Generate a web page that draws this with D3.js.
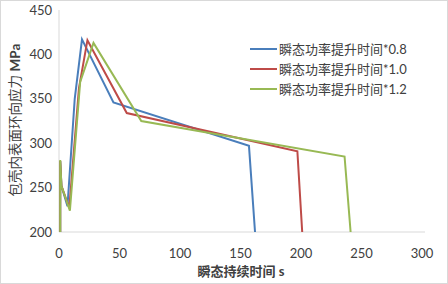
<!DOCTYPE html>
<html>
<head>
<meta charset="utf-8">
<script src="https://cdn.jsdelivr.net/npm/d3@7"></script>
<style>
  body { margin: 0; background: #fff; }
  text { font-family: Lato, "Noto Sans CJK SC", sans-serif; fill: #404040; }
</style>
</head>
<body>
<svg id="chart" width="448" height="284"></svg>
<script>
// data
const seriesNames = ["瞬态功率提升时间*0.8", "瞬态功率提升时间*1.0", "瞬态功率提升时间*1.2"];
const colors = ["#4a7ebb", "#be4b48", "#98b954"];

const blueX = [1, 1, 2, 7, 13, 19, 45, 157, 162];
const blueY = [200, 280, 252, 229, 350, 417, 346, 297, 200];
const redX = [1, 1, 2, 8.5, 16.5, 23.5, 56, 197, 201];
const redY = [200, 280, 252, 227, 362, 416, 334, 291, 200];
const greenX = [1, 1, 2, 9, 17.5, 28.5, 68, 236, 241];
const greenY = [200, 281, 252, 224, 369, 413, 325, 285, 200];

const xTicks = [0, 50, 100, 150, 200, 250, 300];
const yTicks = [200, 250, 300, 350, 400, 450];
const xTitle = "瞬态持续时间 s";
const yTitleCn = "包壳内表面环向应力 ";
const yTitleUnit = "MPa";

const svg = d3.select("#chart");
const width = 448, height = 284;

// outer border
svg.append("rect")
    .attr("x", 0.5).attr("y", 0.5)
    .attr("width", width - 1).attr("height", height - 1)
    .attr("fill", "#fff")
    .attr("stroke", "#d9d9d9");

let x = d3.scaleLinear().domain([0, 300]).range([59, 422]);
let y = d3.scaleLinear().domain([200, 450]).range([232, 10]);

// axes lines
svg.append("line")
    .attr("x1", x(0)).attr("x2", 425)
    .attr("y1", y(200)).attr("y2", y(200))
    .style("stroke", "#d9d9d9").style("stroke-width", 1);
svg.append("line")
    .attr("x1", x(0)).attr("x2", x(0))
    .attr("y1", y(200)).attr("y2", y(450))
    .style("stroke", "#d9d9d9").style("stroke-width", 1);

// tick labels
svg.selectAll(".xtick")
    .data(xTicks)
    .join("text")
    .classed("xtick", true)
    .attr("x", d => x(d))
    .attr("y", 258)
    .attr("text-anchor", "middle")
    .style("font-size", "13px")
    .text(d => d);

svg.selectAll(".ytick")
    .data(yTicks)
    .join("text")
    .classed("ytick", true)
    .attr("x", 52)
    .attr("y", d => y(d) + 4.5)
    .attr("text-anchor", "end")
    .style("font-size", "13px")
    .text(d => d);

// axis titles
svg.append("text")
    .attr("x", 241).attr("y", 276)
    .attr("text-anchor", "middle")
    .style("font-size", "13px")
    .style("font-weight", "bold")
    .text(xTitle);

let yt = svg.append("text")
    .attr("transform", `translate(20, ${y(326)}) rotate(-90)`)
    .attr("text-anchor", "middle")
    .style("font-size", "13.5px");
yt.append("tspan").text(yTitleCn);
yt.append("tspan").style("font-weight", "bold").text(yTitleUnit);

// series
let series = [
    { name: seriesNames[0], xs: blueX, ys: blueY, color: colors[0] },
    { name: seriesNames[1], xs: redX, ys: redY, color: colors[1] },
    { name: seriesNames[2], xs: greenX, ys: greenY, color: colors[2] }
];

let line = d3.line()
    .x(d => x(d[0]))
    .y(d => y(d[1]));

svg.selectAll(".series")
    .data(series)
    .join("path")
    .classed("series", true)
    .attr("d", s => line(s.xs.map((v, i) => [v, s.ys[i]])))
    .style("fill", "none")
    .style("stroke", s => s.color)
    .style("stroke-width", 2)
    .style("stroke-linejoin", "miter");

// legend
let legend = svg.selectAll(".legend")
    .data(series)
    .join("g")
    .classed("legend", true)
    .attr("transform", (d, i) => `translate(250, ${49 + i * 20})`);

legend.append("line")
    .attr("x1", 0).attr("x2", 27)
    .attr("y1", 0).attr("y2", 0)
    .style("stroke", d => d.color)
    .style("stroke-width", 2);

legend.append("text")
    .attr("x", 29).attr("y", 4.5)
    .style("font-size", "13px")
    .text(d => d.name);
</script>
</body>
</html>
